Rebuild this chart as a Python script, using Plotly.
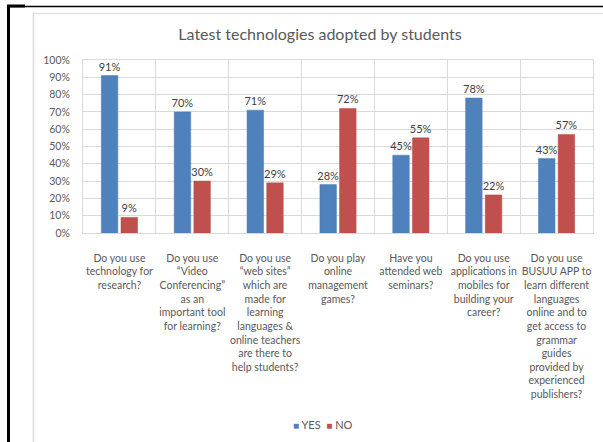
import plotly.graph_objects as go

# Survey questions (wrapped for the category axis)
questions = [
    "Do you use<br>technology for<br>research?",
    "Do you use<br>“Video<br>Conferencing”<br>as an<br>important tool<br>for learning?",
    "Do you use<br>“web sites”<br>which are<br>made for<br>learning<br>languages &<br>online teachers<br>are there to<br>help students?",
    "Do you play<br>online<br>management<br>games?",
    "Have you<br>attended web<br>seminars?",
    "Do you use<br>applications in<br>mobiles for<br>building your<br>career?",
    "Do you use<br>BUSUU APP to<br>learn different<br>languages<br>online and to<br>get access to<br>grammar<br>guides<br>provided by<br>experienced<br>publishers?",
]
yes_pct = [91, 70, 71, 28, 45, 78, 43]
no_pct = [9, 30, 29, 72, 55, 22, 57]
y_ticks = list(range(0, 101, 10))

W, H = 603, 442
ML, MR, MT, MB = 83, 10, 60, 209
PW = W - ML - MR
PH = H - MT - MB
FONT = "Lato, Calibri, sans-serif"
GRID = "#D9D9D9"
TXT = "#595959"
BLUE = "#4F81BD"
RED = "#C0504D"


def px(x):
    return (x - ML) / PW


def py(y):
    return (H - MB - y) / PH


series = [("YES", yes_pct, BLUE, "#4A7AB3"), ("NO", no_pct, RED, "#B54B48")]

fig = go.Figure()
for name, vals, col, edge in series:
    fig.add_trace(go.Bar(
        name=name, x=questions, y=vals, showlegend=False,
        marker=dict(color=col, line=dict(color=edge, width=0.5)),
        text=[f"{v}%" for v in vals], textposition="outside", constraintext="none",
        textfont=dict(size=11, color="#404040", family=FONT),
        cliponaxis=False,
    ))

# compact key below the chart: small coloured square followed by the series name
key_text = "&nbsp;&nbsp;".join(
    f"<span style='color:{col};font-size:10px'>■</span> {name}" for name, _, col, _ in series
)

shapes = [
    # outer chart border
    dict(type="line", xref="paper", yref="paper", x0=px(33), x1=px(610), y0=py(13.5), y1=py(13.5),
         line=dict(color="#E0E0E0", width=1.5)),
    dict(type="line", xref="paper", yref="paper", x0=px(33.5), x1=px(33.5), y0=py(13), y1=py(450),
         line=dict(color="#DADADA", width=1.5)),
    # black frame
    dict(type="line", xref="paper", yref="paper", x0=px(7), x1=px(610), y0=py(6.5), y1=py(6.5),
         line=dict(color="#000000", width=1.5)),
    dict(type="line", xref="paper", yref="paper", x0=px(7), x1=px(25), y0=py(6), y1=py(6),
         line=dict(color="#000000", width=3)),
    dict(type="line", xref="paper", yref="paper", x0=px(8.5), x1=px(8.5), y0=py(5), y1=py(450),
         line=dict(color="#000000", width=3)),
]

fig.update_layout(
    width=W, height=H,
    margin=dict(l=ML, r=MR, t=MT, b=MB),
    paper_bgcolor="white", plot_bgcolor="white",
    barmode="group", bargap=0.46, bargroupgap=0.16,
    font=dict(family=FONT, color=TXT),
    title=dict(text="Latest technologies adopted by students",
               xref="container", x=320 / W, xanchor="center", y=1 - 34 / H, yanchor="middle",
               font=dict(size=16, color=TXT, family=FONT)),
    showlegend=False,
    annotations=[dict(text=key_text, xref="paper", yref="paper", x=px(291), xanchor="left",
                      y=py(424), yanchor="middle", showarrow=False,
                      font=dict(size=11, color=TXT, family=FONT))],
    shapes=shapes,
)
fig.update_xaxes(
    type="category", tickson="boundaries", showgrid=True, gridcolor=GRID, gridwidth=1,
    showline=True, linecolor=GRID, linewidth=1, mirror=True, ticks="",
    tickfont=dict(size=10.5, color=TXT, family=FONT), tickangle=0,
    ticklabelstandoff=15, fixedrange=True,
)
fig.update_yaxes(
    range=[0, 100], tickvals=y_ticks, ticktext=[f"{v}%" for v in y_ticks],
    showgrid=True, gridcolor=GRID, gridwidth=1, zeroline=False,
    showline=True, linecolor=GRID, linewidth=1, mirror=True, ticks="",
    tickfont=dict(size=10.5, color=TXT, family=FONT), ticklabelstandoff=10,
)

fig.write_html("out.html")
